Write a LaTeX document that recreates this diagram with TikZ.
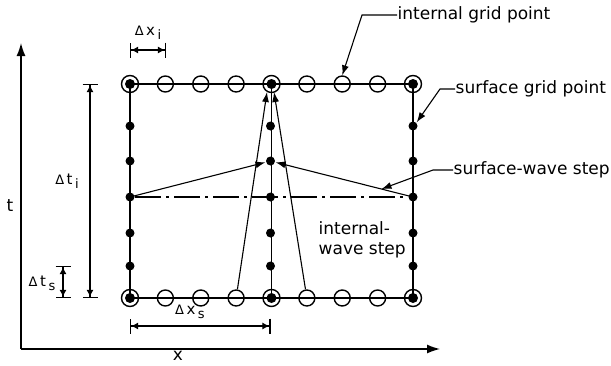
\documentclass[tikz,border=0pt]{standalone}
\usepackage{fontspec}
\setmainfont{DejaVu Sans}
\usetikzlibrary{arrows.meta}

\newcommand{\lowidx}[1]{\raisebox{-0.45ex}{\fontsize{13}{13}\selectfont #1}}
\newcommand{\dimtxt}[2]{{\fontsize{13}{13}\selectfont Δ}\,#1\,\lowidx{#2}}

\begin{document}
\begin{tikzpicture}[x=1pt,y=-1pt,line width=1.4pt,
	opengp/.style={circle,draw,minimum size=16pt,inner sep=0pt},
	surfgp/.style={circle,fill,minimum size=9pt,inner sep=0pt},
	bothgp/.style={circle,draw,minimum size=17pt,inner sep=0pt,
		path picture={\fill (path picture bounding box.center) circle (5pt);}},
	lbl/.style={font=\fontsize{17}{20}\selectfont,inner sep=0pt},
	dimlbl/.style={font=\fontsize{15}{15}\selectfont,inner sep=0pt},
	dimline/.style={{Bar[width=15pt]Latex[length=7pt,width=7pt]}-{Latex[length=7pt,width=7pt]Bar[width=15pt]}},
	tip/.style={-{Latex[length=10pt,width=7pt]}},
	axtip/.style={-{Latex[length=13pt,width=9pt]}}]
				\useasboundingbox (0,0) rectangle (611,365);
				
				% grid points, top and bottom rows
				\foreach \k in {0,...,8} {
					\pgfmathsetmacro{\gx}{130+35.375*\k}
					\ifnum\k=0 \def\gs{bothgp}\else\ifnum\k=4 \def\gs{bothgp}\else\ifnum\k=8 \def\gs{bothgp}\else\def\gs{opengp}\fi\fi\fi
					\node[\gs] (t\k) at (\gx,84) {};
					\node[\gs] (b\k) at (\gx,298) {};
				}
				% grid points, columns
				\foreach \gy [count=\j] in {126,161,197,233,266} {
					\node[surfgp] (l\j) at (130,\gy) {};
					\node[surfgp] (c\j) at (270.5,\gy) {};
					\node[surfgp] (r\j) at (413,\gy) {};
				}
				
				\draw (t0.center) -- (t8.center) -- (b8.center) -- (b0.center) -- cycle;
				\draw (t4.center) -- (b4.center);
				
				% steps
				\draw[line width=1.1pt,dash pattern=on 26pt off 5pt on 3pt off 5pt] (l3) -- (r3);
				\draw[line width=1.1pt,tip] (l3.center) -- (c2);
				\draw[line width=1.1pt,tip] (r3.center) -- (c2);
				\coordinate (iwl) at (267,92);
				\coordinate (iwr) at (274,92);
				\draw[line width=1.1pt,tip] (b3) -- (iwl);
				\draw[line width=1.1pt,tip] (b5) -- (iwr);
				
				% labels
				\node[lbl,anchor=west] (igp) at (397,15) {internal grid point};
				\draw[line width=1.1pt,tip] (igp.west) -- ++(-35,0) -- (t6.north);
				\node[lbl,anchor=west] (sgp) at (455,89) {surface grid point};
				\draw[line width=1.1pt,tip] (sgp.west) -- ++(-15,0) -- (r1.north east);
				\node[lbl,anchor=west] (sws) at (453,170) {surface-wave step};
				\path (r3) -- (c2) coordinate[pos=0.2] (swp);
				\draw[line width=1.1pt,tip] (sws.west) -- ++(-20,0) -- (swp);
				\node[lbl,anchor=north west,align=left] (iws) at (318,221) {internal-\\wave step};
				
				% dimensions
				\coordinate (dxi0) at (130,50);
				\coordinate (dxi1) at (166,50);
				\draw[line width=1.1pt,dimline] (dxi0) -- (dxi1);
				\node[dimlbl] (dxil) at (148,33) {\dimtxt{x}{i}};
				\coordinate (dti0) at (90,84);
				\coordinate (dti1) at (90,298);
				\draw[line width=1.1pt,dimline] (dti0) -- (dti1);
				\node[dimlbl] (dtil) at (67,181) {\dimtxt{t}{i}};
				\coordinate (dts0) at (63,266);
				\coordinate (dts1) at (63,298);
				\draw[line width=1.1pt,dimline] (dts0) -- (dts1);
				\node[dimlbl] (dtsl) at (42,283) {\dimtxt{t}{s}};
				\coordinate (dxs0) at (130,326);
				\coordinate (dxs1) at (270.5,326);
				\draw[line width=1.1pt,dimline] (dxs0) -- (dxs1);
				\node[dimlbl] (dxsl) at (190,312) {\dimtxt{x}{s}};
				
				% axes
				\coordinate (orig) at (21,349);
				\coordinate (tax) at (21,43);
				\coordinate (xax) at (440,349);
				\draw[axtip] (orig) -- (tax);
				\draw[axtip] (orig) -- (xax);
				\node[lbl] (tl) at (10,206) {t};
				\node[lbl] (xl) at (178,356) {x};
			\end{tikzpicture}
\end{document}
